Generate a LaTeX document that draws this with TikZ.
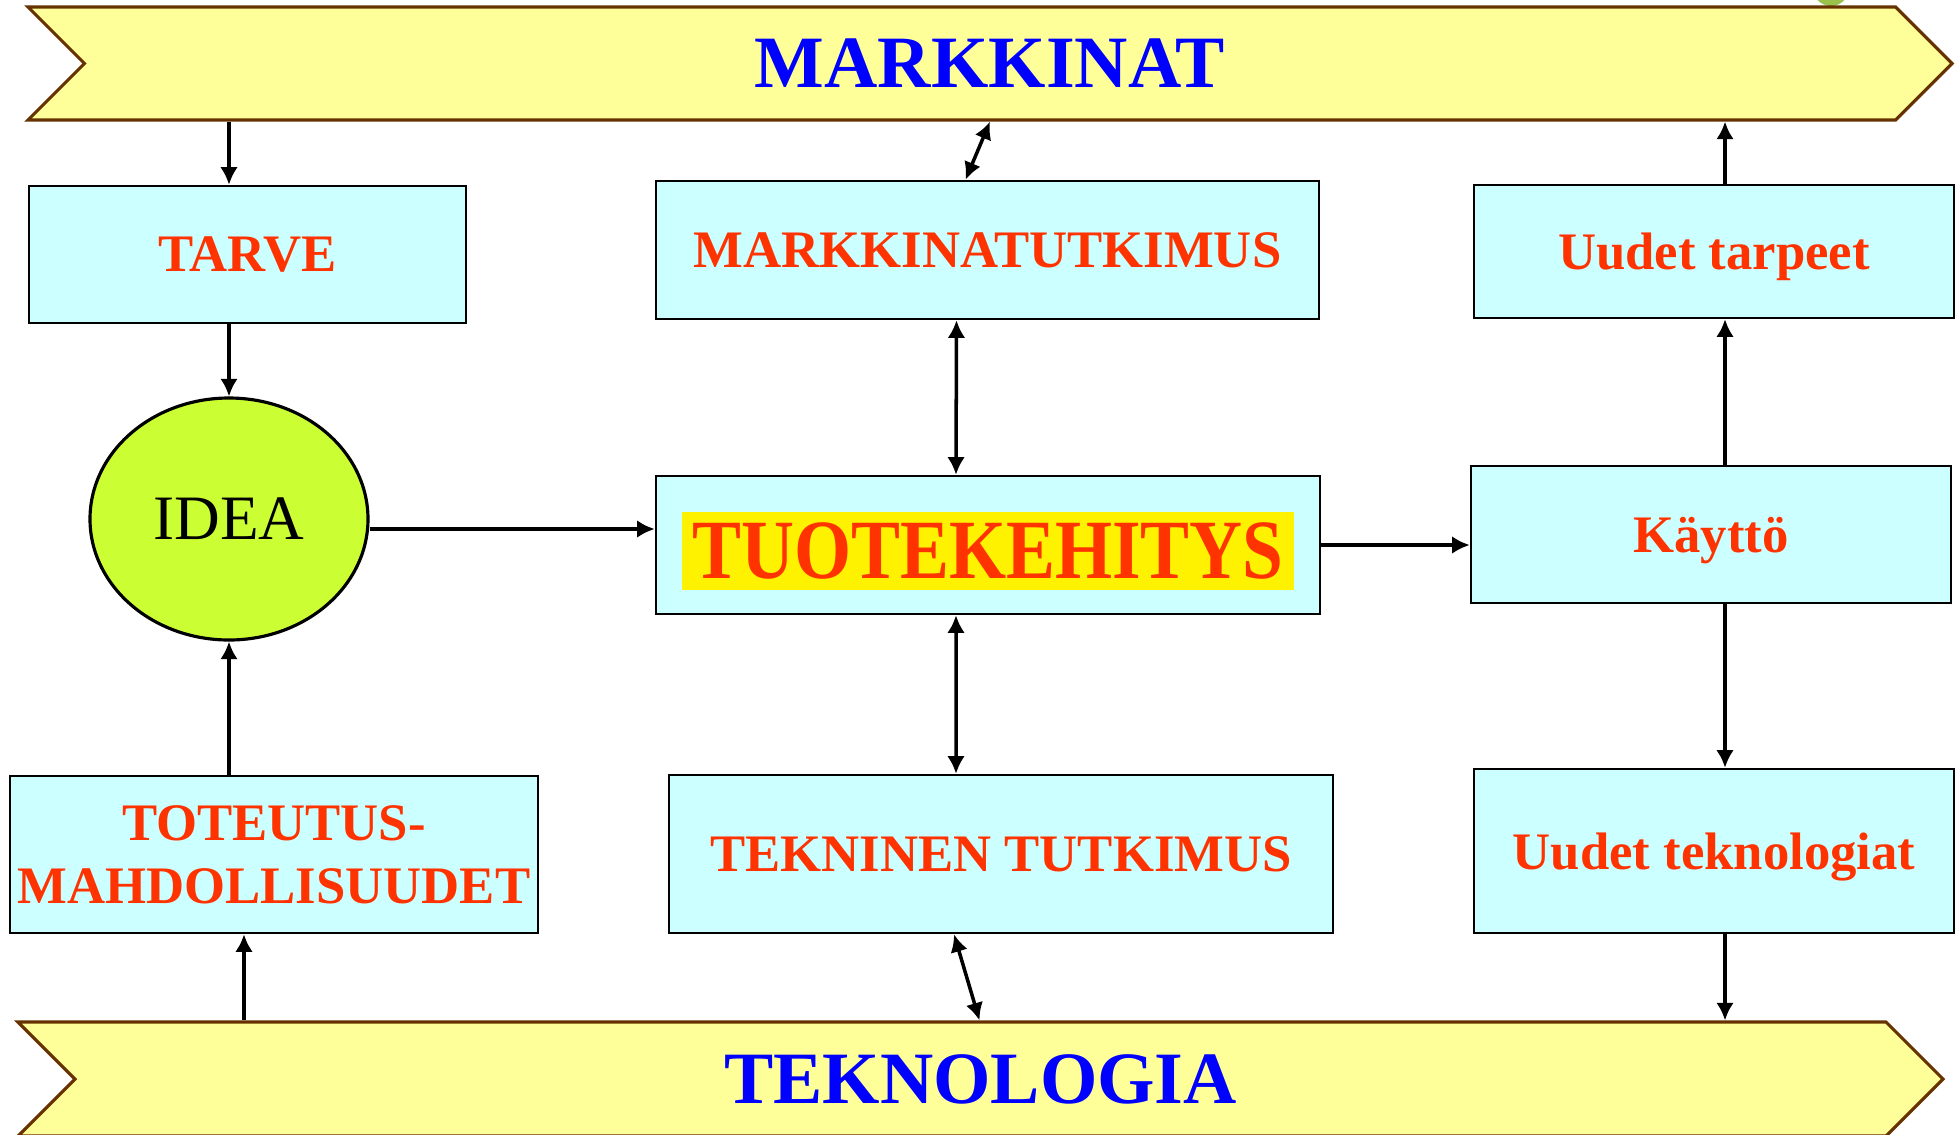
\documentclass[tikz,border=0pt]{standalone}
\usepackage{fontspec}
\setmainfont{Liberation Serif}
\usetikzlibrary{shapes.geometric,shapes.symbols,arrows.meta}

\definecolor{bannerfill}{HTML}{FFFF99}
\definecolor{bannerline}{HTML}{663300}
\definecolor{boxfill}{HTML}{CCFFFF}
\definecolor{boxtext}{HTML}{FF3300}
\definecolor{ideafill}{HTML}{CCFF33}
\definecolor{dotgreen}{HTML}{99C24D}

\begin{document}
\begin{tikzpicture}[
        banner/.style={signal, signal from=west, signal to=east, draw=bannerline,
            fill=bannerfill, line width=0.9pt, inner sep=0pt, text=blue,
            font=\bfseries\fontsize{21}{25}\selectfont},
        block/.style={rectangle, draw, fill=boxfill, line width=0.7pt, align=center,
            text=boxtext, inner sep=0pt, text depth=0pt, font=\bfseries\fontsize{15}{18}\selectfont},
        arrow/.style={-{Latex[length=5pt,width=5pt]}, line width=1pt},
        darrow/.style={{Latex[length=5pt,width=5pt]}-{Latex[length=5pt,width=5pt]}, line width=1pt}
    ]
        \useasboundingbox (0,0) rectangle (19.6,-11.34);

        % small green dot at the upper edge
        \begin{scope}
            \clip (0,0) rectangle (19.6,-11.34);
            \fill[dotgreen] (18.31,0.12) circle (0.18);
        \end{scope}

        % Banners
        \node[banner, minimum width=19.24cm, minimum height=1.13cm] (markkinat) at (9.90,-0.635) {MARKKINAT};
        \node[banner, minimum width=19.25cm, minimum height=1.14cm] (teknologia) at (9.805,-10.79) {TEKNOLOGIA};

        % Left column
        \node[block, minimum width=4.37cm, minimum height=1.37cm] (tarve) at (2.475,-2.545) {TARVE};
        \node[ellipse, draw, fill=ideafill, line width=0.9pt, minimum width=2.78cm, minimum height=2.42cm,
            font=\fontsize{18}{21}\selectfont] (idea) at (2.29,-5.19) {IDEA};
        \node[block, minimum width=5.28cm, minimum height=1.57cm] (toteutus) at (2.74,-8.545)
            {TOTEUTUS-\\MAHDOLLISUUDET};

        % Middle column
        \node[block, minimum width=6.63cm, minimum height=1.38cm] (tutkimus) at (9.875,-2.50) {MARKKINATUTKIMUS};
        \node[block, minimum width=6.64cm, minimum height=1.38cm] (tuote) at (9.88,-5.45)
            {\colorbox{yellow}{\scalebox{0.87}[1]{\fontsize{24}{28}\selectfont TUOTEKEHITYS}}};
        \node[block, minimum width=6.64cm, minimum height=1.58cm] (tekninen) at (10.01,-8.54) {TEKNINEN TUTKIMUS};

        % Right column
        \node[block, minimum width=4.80cm, minimum height=1.33cm] (tarpeet) at (17.14,-2.515) {Uudet tarpeet};
        \node[block, minimum width=4.80cm, minimum height=1.37cm] (kaytto) at (17.11,-5.345) {Käyttö};
        \node[block, minimum width=4.80cm, minimum height=1.64cm] (teknot) at (17.14,-8.51) {Uudet teknologiat};

        % Left column arrows
        \draw[arrow] (markkinat.south -| idea) -- (tarve.north -| idea);
        \draw[arrow] (tarve.south -| idea) -- (idea.north);
        \draw[arrow] (toteutus.north -| idea) -- (idea.south);
        \draw[arrow] ([xshift=-3mm]toteutus.south |- teknologia.north) -- ([xshift=-3mm]toteutus.south);
        \draw[arrow] ([yshift=-1mm]idea.east) -- ([yshift=-1mm]idea.east -| tuote.west);

        % Middle column arrows
        \draw[darrow] ([xshift=-2.2mm]tutkimus.north) -- (markkinat.south);
        \draw[darrow] ([xshift=-3.1mm]tutkimus.south) -- ([xshift=-3.2mm]tuote.north);
        \draw[darrow] ([xshift=-3.2mm]tuote.south) -- ([xshift=-4.5mm]tekninen.north);
        \draw[darrow] ([xshift=-4.7mm]tekninen.south) -- ([xshift=-0.1mm]teknologia.north);
        \draw[arrow] (tuote.east) -- (tuote.east -| kaytto.west);

        % Right column arrows
        \draw[arrow] ([xshift=1.4mm]kaytto.north) -- ([xshift=1.4mm]kaytto.north |- tarpeet.south);
        \draw[arrow] ([xshift=1.1mm]tarpeet.north) -- ([xshift=1.1mm]tarpeet.north |- markkinat.south);
        \draw[arrow] ([xshift=1.4mm]kaytto.south) -- ([xshift=1.4mm]kaytto.south |- teknot.north);
        \draw[arrow] ([xshift=1.1mm]teknot.south) -- ([xshift=1.1mm]teknot.south |- teknologia.north);

    \end{tikzpicture}
\end{document}
